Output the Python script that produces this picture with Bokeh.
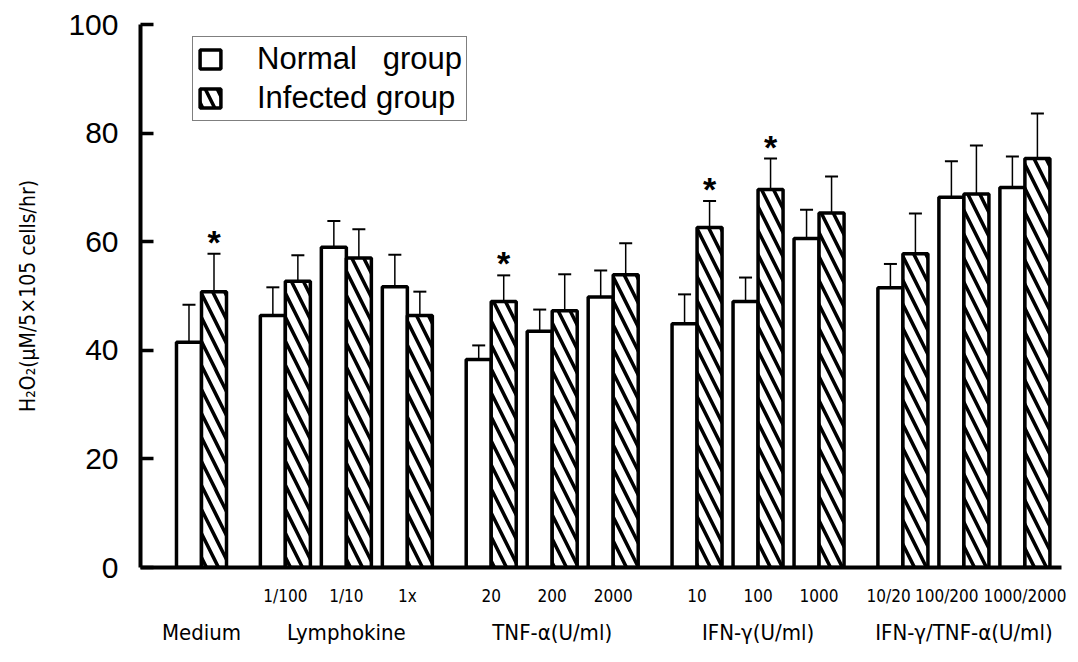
import subprocess
from bokeh.plotting import figure
from bokeh.models import (ColumnDataSource, Whisker, TeeHead, Range1d, FixedTicker,
                          LinearAxis, Legend, LegendItem)
from bokeh.core.properties import value
from bokeh.embed import file_html
from bokeh.resources import INLINE

# ---------------- data ----------------
group_names = ["Medium", "Lymphokine", "TNF-α(U/ml)", "IFN-γ(U/ml)", "IFN-γ/TNF-α(U/ml)"]
cond_group = ["Medium",
              "Lymphokine", "Lymphokine", "Lymphokine",
              "TNF-α(U/ml)", "TNF-α(U/ml)", "TNF-α(U/ml)",
              "IFN-γ(U/ml)", "IFN-γ(U/ml)", "IFN-γ(U/ml)",
              "IFN-γ/TNF-α(U/ml)", "IFN-γ/TNF-α(U/ml)", "IFN-γ/TNF-α(U/ml)"]
cond_label = ["", "1/100", "1/10", "1x", "20", "200", "2000",
              "10", "100", "1000", "10/20", "100/200", "1000/2000"]
normal_mean = [41.5, 46.4, 59.0, 51.7, 38.3, 43.5, 49.8, 44.9, 49.0, 60.6, 51.5, 68.2, 70.0]
normal_sd = [6.9, 5.2, 4.8, 5.9, 2.6, 4.0, 4.9, 5.4, 4.4, 5.3, 4.4, 6.6, 5.7]
infected_mean = [50.8, 52.7, 57.0, 46.4, 49.0, 47.3, 53.9, 62.6, 69.6, 65.3, 57.8, 68.8, 75.3]
infected_sd = [7.0, 4.8, 5.3, 4.4, 4.8, 6.7, 5.8, 4.9, 5.7, 6.7, 7.4, 8.9, 8.3]
significant = [True, False, False, False, True, False, False, True, True, False, False, False, False]
y_ticks = [0, 20, 40, 60, 80, 100]

# ---------------- fonts (prefer a condensed face if one is installed) ----------------
try:
    _fams = subprocess.run(["fc-list", ":", "family"], capture_output=True,
                           text=True, timeout=20).stdout
except Exception:
    _fams = ""
_candidates = [("Noto Sans ExtraCondensed", 0.72), ("Noto Sans Condensed", 0.84),
               ("Liberation Sans Narrow", 0.82), ("Noto Sans SemiCondensed", 0.93),
               ("DejaVu Sans Condensed", 1.03)]
LABEL_FONT, WF = "Noto Sans CJK KR", 1.0
for _f, _w in _candidates:
    if _f in _fams:
        LABEL_FONT, WF = _f, _w
        break
SUB_SIZE = min(24, round(17.5 / WF))
GRP_SIZE = min(34, round(23.0 / WF))
YLAB_SIZE = min(28, round(22.0 / WF))

# ---------------- layout helpers ----------------
PLOT_W, PLOT_H = 1078, 662
BORDER_L, BORDER_R = 140, 17
GAP = 0.375
BAR_W = 0.41
positions = []
x = 0.0
prev = None
for g in cond_group:
    if prev is not None:
        x += 1.0 if g == prev else 1.0 + GAP
    positions.append(round(x, 4))
    prev = g
X_START, X_END = -1.0, positions[-1] + 0.6
PX_PER_UNIT = (PLOT_W - BORDER_L - BORDER_R) / (X_END - X_START)

xn = [round(v - BAR_W / 2, 4) for v in positions]
xi = [round(v + BAR_W / 2, 4) for v in positions]
ntop = [m + s for m, s in zip(normal_mean, normal_sd)]
itop = [m + s for m, s in zip(infected_mean, infected_sd)]

src = ColumnDataSource(dict(xn=xn, xi=xi, normal=normal_mean, infected=infected_mean,
                            ntop=ntop, itop=itop))
star_src = ColumnDataSource(dict(
    x=[a for a, s in zip(xi, significant) if s],
    y=[t for t, s in zip(itop, significant) if s],
    t=["*" for s in significant if s]))

group_centers = []
for g in group_names:
    ps = [p_ for p_, gg in zip(positions, cond_group) if gg == g]
    group_centers.append(round(sum(ps) / len(ps), 4))


# sub-label placement: centred under each pair, nudged left only where neighbours collide
def _label_w(s):
    em = sum(0.3 if c == "/" else 0.57 for c in s) * WF
    return em * SUB_SIZE / PX_PER_UNIT

sub_pairs = [[v, l] for v, l in zip(positions, cond_label) if l]
for k in range(len(sub_pairs) - 2, -1, -1):
    right_neighbour_left = sub_pairs[k + 1][0] - _label_w(sub_pairs[k + 1][1]) / 2
    limit = right_neighbour_left - 3 / PX_PER_UNIT - _label_w(sub_pairs[k][1]) / 2
    if sub_pairs[k][0] > limit:
        sub_pairs[k][0] = limit
sub_ticks = [round(v, 4) for v, _ in sub_pairs]
sub_overrides = {t: l for t, (_, l) in zip(sub_ticks, sub_pairs)}

# ---------------- figure ----------------
p = figure(width=PLOT_W, height=PLOT_H, output_backend="svg", toolbar_location=None,
           x_range=Range1d(X_START, X_END), y_range=Range1d(0, 100),
           x_axis_type=None,
           min_border_left=BORDER_L, min_border_right=BORDER_R, min_border_top=24,
           min_border_bottom=95)
p.outline_line_color = None
p.grid.visible = False
p.background_fill_color = "white"
p.border_fill_color = "white"

r_norm = p.vbar(x="xn", top="normal", bottom=0, width=BAR_W, source=src,
                fill_color="white", line_color="black", line_width=3.5)
r_inf = p.vbar(x="xi", top="infected", bottom=0, width=BAR_W, source=src,
               fill_color="white", line_color="black", line_width=3.5,
               hatch_pattern="\\", hatch_color="black", hatch_weight=3.5, hatch_scale=24)

for base, lo, up in (("xn", "normal", "ntop"), ("xi", "infected", "itop")):
    w = Whisker(source=src, base=base, lower=lo, upper=up, dimension="height",
                upper_head=TeeHead(size=13, line_width=2, line_color="black"),
                lower_head=None, line_width=1.5, line_color="black")
    p.add_layout(w)

p.text(x="x", y="y", text="t", source=star_src, text_font=value("Liberation Sans"),
       text_font_size="34px", text_font_style="bold", text_align="center",
       text_baseline="alphabetic", text_color="black", y_offset=-12)

# y axis
ya = p.yaxis[0]
ya.ticker = FixedTicker(ticks=y_ticks)
ya.axis_line_width = 4
ya.major_tick_line_width = 3.5
ya.major_tick_in = 13
ya.major_tick_out = 0
ya.minor_tick_line_color = None
ya.major_label_text_font = "Liberation Sans"
ya.major_label_text_font_size = "30px"
ya.major_label_text_color = "black"
ya.major_label_standoff = 22
ya.axis_label = "H₂O₂(μM/5×105 cells/hr)"
ya.axis_label_text_font = LABEL_FONT
ya.axis_label_text_font_size = f"{YLAB_SIZE}px"
ya.axis_label_text_font_style = "normal"
ya.axis_label_text_color = "black"
ya.axis_label_standoff = 25

# x axes (sub labels, then group labels)
sub_axis = LinearAxis(ticker=FixedTicker(ticks=sub_ticks), major_label_overrides=sub_overrides)
sub_axis.axis_line_width = 4
sub_axis.major_tick_line_color = None
sub_axis.minor_tick_line_color = None
sub_axis.major_label_text_font = LABEL_FONT
sub_axis.major_label_text_font_size = f"{SUB_SIZE}px"
sub_axis.major_label_text_color = "black"
sub_axis.major_label_standoff = 12
p.add_layout(sub_axis, "below")

grp_axis = LinearAxis(ticker=FixedTicker(ticks=group_centers),
                      major_label_overrides={v: g for v, g in zip(group_centers, group_names)})
grp_axis.axis_line_color = None
grp_axis.major_tick_line_color = None
grp_axis.minor_tick_line_color = None
grp_axis.major_label_text_font = LABEL_FONT
grp_axis.major_label_text_font_size = f"{GRP_SIZE}px"
grp_axis.major_label_text_color = "black"
grp_axis.major_label_standoff = 5
p.add_layout(grp_axis, "below")

legend = Legend(items=[LegendItem(label="Normal   group", renderers=[r_norm]),
                       LegendItem(label="Infected group", renderers=[r_inf])],
                location=(52, 446))
legend.border_line_color = "black"
legend.border_line_width = 1.5
legend.background_fill_alpha = 1.0
legend.label_text_font = "Liberation Sans"
legend.label_text_font_size = "31px"
legend.label_text_color = "black"
legend.glyph_width = 26
legend.glyph_height = 24
legend.label_standoff = 34
legend.padding = 4
legend.spacing = 3
legend.margin = 0
p.add_layout(legend)

open("out.html", "w").write(file_html(p, INLINE))
